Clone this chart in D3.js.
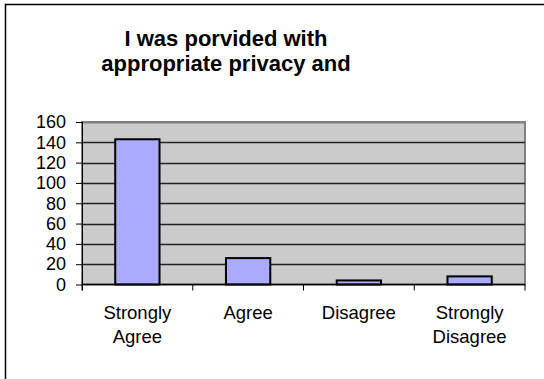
<!DOCTYPE html>
<html lang="en">
<head>
  <meta charset="UTF-8">
  <title>Privacy chart</title>
  <script src="https://cdn.jsdelivr.net/npm/d3@7"></script>
  <style>
    body { margin: 0; background: #fff; }
    text { font-family: "Liberation Sans", Arial, sans-serif; }
  </style>
</head>
<body>
  <div id="container"></div>
  <script>
    const svg_width = 544;
    const svg_height = 379;

    // data
    var categories = [["Strongly", "Agree"], ["Agree"], ["Disagree"], ["Strongly", "Disagree"]];
    var values = [143, 26, 4, 8];
    var y_ticks = [0, 20, 40, 60, 80, 100, 120, 140, 160];
    var title_lines = ["I was porvided with", "appropriate privacy and"];

    var plot = { left: 82, right: 525, top: 122, bottom: 284.5 };

    var svg = d3.select("#container")
      .append('svg')
      .attr('width', svg_width)
      .attr('height', svg_height);

    // outer frame (runs off the right and bottom edges)
    svg.append('rect')
      .attr('x', 5.5).attr('y', 4.5)
      .attr('width', 560).attr('height', 400)
      .attr('fill', 'none').attr('stroke', '#000').attr('stroke-width', 1.5);

    // title
    svg.append('text')
      .attr('text-anchor', 'middle')
      .attr('font-size', 22).attr('font-weight', 'bold')
      .selectAll('tspan')
      .data(title_lines)
      .enter()
      .append('tspan')
      .attr('x', 226)
      .attr('y', function (d, i) { return 46 + i * 25; })
      .text(function (d) { return d; });

    var x_scale = d3.scaleBand()
      .domain(d3.range(categories.length))
      .range([plot.left, plot.right])
      .paddingInner(0.6)
      .paddingOuter(0.3);

    var y_scale = d3.scaleLinear()
      .domain([0, 160])
      .range([plot.bottom, plot.top]);

    // plot background
    svg.append('rect')
      .attr('x', plot.left).attr('y', plot.top)
      .attr('width', plot.right - plot.left)
      .attr('height', plot.bottom - plot.top)
      .attr('fill', '#cbcbcb')
      .attr('stroke', '#808080').attr('stroke-width', 2);

    // gridlines
    svg.append('g')
      .selectAll('line')
      .data(y_ticks.filter(function (d) { return d > 0; }))
      .enter()
      .append('line')
      .attr('x1', plot.left).attr('x2', plot.right)
      .attr('y1', function (d) { return Math.round(y_scale(d)) + 0.5; })
      .attr('y2', function (d) { return Math.round(y_scale(d)) + 0.5; })
      .attr('stroke', function (d) { return d === 160 ? '#808080' : '#222'; })
      .attr('stroke-width', function (d) { return d === 160 ? 2 : 1.3; });

    // bars
    svg.append('g')
      .selectAll('rect')
      .data(values)
      .enter()
      .append('rect')
      .attr('x', function (d, i) { return x_scale(i); })
      .attr('y', function (d) { return y_scale(d); })
      .attr('width', x_scale.bandwidth())
      .attr('height', function (d) { return y_scale(0) - y_scale(d); })
      .attr('fill', '#aaaaff')
      .attr('stroke', '#000')
      .attr('stroke-width', 2);

    // y axis
    var y_axis = d3.axisLeft(y_scale).tickValues(y_ticks).tickSize(6).tickPadding(10);
    var gy = svg.append('g')
      .attr('transform', 'translate(' + plot.left + ',0)')
      .call(y_axis);
    gy.select('.domain').remove();
    gy.append('line')
      .attr('x1', 0.5).attr('x2', 0.5)
      .attr('y1', plot.top).attr('y2', plot.bottom + 6)
      .attr('stroke', '#000');
    gy.selectAll('text')
      .attr('font-size', 18).attr('font-family', '"Liberation Sans", Arial, sans-serif')
      .attr('fill', '#000');
    gy.selectAll('.tick line').attr('stroke', '#000');

    // x axis
    var step = (plot.right - plot.left) / categories.length;
    var gx = svg.append('g');
    gx.append('line')
      .attr('x1', plot.left).attr('x2', plot.right)
      .attr('y1', plot.bottom).attr('y2', plot.bottom)
      .attr('stroke', '#000').attr('stroke-width', 1.5);
    gx.selectAll('line.tk')
      .data(d3.range(categories.length + 1))
      .enter()
      .append('line')
      .attr('class', 'tk')
      .attr('x1', function (d) { return plot.left + d * step; })
      .attr('x2', function (d) { return plot.left + d * step; })
      .attr('y1', plot.bottom).attr('y2', plot.bottom + 6)
      .attr('stroke', '#000');

    gx.selectAll('text')
      .data(categories)
      .enter()
      .append('text')
      .attr('text-anchor', 'middle')
      .attr('font-size', 18.5)
      .each(function (d, i) {
        d3.select(this).selectAll('tspan')
          .data(d)
          .enter()
          .append('tspan')
          .attr('x', x_scale(i) + x_scale.bandwidth() / 2)
          .attr('y', function (t, j) { return 319 + j * 24; })
          .text(function (t) { return t; });
      });
  </script>
</body>
</html>
